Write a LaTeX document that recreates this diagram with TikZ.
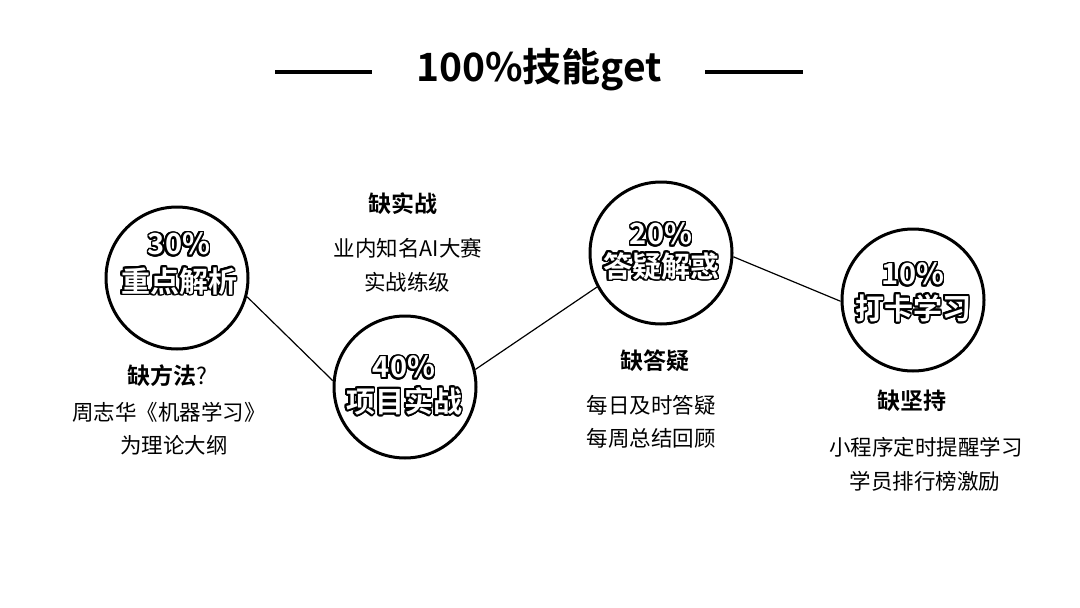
\documentclass[tikz,border=0pt]{standalone}
\usepackage{fontspec}
\setmainfont{Noto Sans CJK SC}[BoldFont={Noto Sans CJK SC Bold}]
\usepackage[copies]{contour}
\contourlength{1.8pt}
\contournumber{24}
\tikzset{
  circ/.style={circle, draw=black, line width=3pt, minimum size=142pt, inner sep=0pt},
  link/.style={draw=black, line width=1.2pt},
  bar/.style={draw=black, line width=4pt},
  title/.style={font=\bfseries\fontsize{39}{44}\selectfont, inner sep=0pt},
  pct/.style={font=\bfseries\fontsize{29}{32}\selectfont, inner sep=0pt},
  head/.style={font=\bfseries\fontsize{23}{26}\selectfont, inner sep=0pt},
  body/.style={font=\fontsize{21.5}{24}\selectfont, inner sep=0pt},
}
\newcommand{\outl}[1]{\contour{black}{\textcolor{white}{#1}}}
\begin{document}
\begin{tikzpicture}[x=1pt,y=-1pt]
\useasboundingbox[fill=white] (0,0) rectangle (1080,608);
% title
\node[title] (t) at (539,70) {100\%技能get};
\coordinate (la) at (275,72); \coordinate (lb) at (372,72);
\coordinate (ra) at (705,72); \coordinate (rb) at (803,72);
\draw[bar] (la) -- (lb);
\draw[bar] (ra) -- (rb);
% circles
\node[circ] (c1) at (177,278) {};
\node[circ] (c2) at (405,387) {};
\node[circ] (c3) at (661,253) {};
\node[circ] (c4) at (913,300) {};
\draw[link] (c1.-15) -- (c2.175);
\draw[link] (c2.14) -- (c3.208);
\draw[link] (c3.-3) -- (c4.181);
% circle texts
\node[pct] (p1) at (179,245) {\outl{30\%}};
\node[pct] (q1) at (179,282) {\outl{重点解析}};
\node[pct] (p2) at (404,368) {\outl{40\%}};
\node[pct] (q2) at (404,402) {\outl{项目实战}};
\node[pct] (p3) at (661,235) {\outl{20\%}};
\node[pct] (q3) at (661,267) {\outl{答疑解惑}};
\node[pct] (p4) at (913,275) {\outl{10\%}};
\node[pct] (q4) at (913,309) {\outl{打卡学习}};
% labels
\node[head] (h1) at (167,376) {缺方法{\mdseries ?}};
\node[body] (a1) at (169,412) {周志华《机器学习》};
\node[body] (b1) at (174,445) {为理论大纲};
\node[head] (h2) at (403,204) {缺实战};
\node[body] (a2) at (408,248) {业内知名AI大赛};
\node[body] (b2) at (407,282) {实战练级};
\node[head] (h3) at (655,361) {缺答疑};
\node[body] (a3) at (651,405) {每日及时答疑};
\node[body] (b3) at (651,438) {每周总结回顾};
\node[head] (h4) at (912,401) {缺坚持};
\node[body] (a4) at (926,447) {小程序定时提醒学习};
\node[body] (b4) at (925,481) {学员排行榜激励};
\end{tikzpicture}
\end{document}
